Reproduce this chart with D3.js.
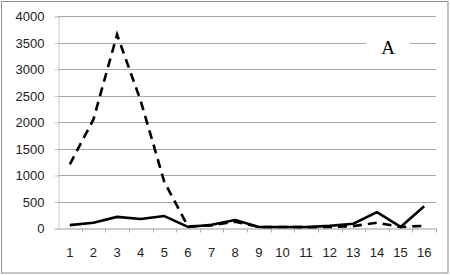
<!DOCTYPE html>
<html>
<head>
<meta charset="utf-8">
<script src="https://cdn.jsdelivr.net/npm/d3@7"></script>
<style>
  body { margin: 0; background: #fff; }
  svg text { font-family: "Liberation Sans", Arial, sans-serif; }
</style>
</head>
<body>
<div id="chart"></div>
<script>
//categories and series values
var categories = ["1", "2", "3", "4", "5", "6", "7", "8", "9", "10", "11", "12", "13", "14", "15", "16"];
var dashedValues = [1200, 2050, 3650, 2400, 870, 30, 50, 120, 20, 20, 15, 20, 35, 100, 20, 40];
var solidValues = [55, 100, 210, 170, 225, 20, 60, 150, 20, 20, 20, 40, 80, 300, 20, 410];
var yTicks = [0, 500, 1000, 1500, 2000, 2500, 3000, 3500, 4000];
var panelLabel = "A";

var width = 450, height = 275;
var margin = { top: 16, right: 14, bottom: 47, left: 58 };

var svg = d3.select("#chart").append("svg")
  .attr("width", width)
  .attr("height", height);

//outer border
svg.append("rect")
  .attr("x", 1.5).attr("y", 1.5)
  .attr("width", width - 3.5).attr("height", height - 3.5)
  .attr("fill", "#fff")
  .attr("stroke", "#8c8c8c");

var x = d3.scaleBand()
  .domain(categories)
  .range([margin.left, width - margin.right]);

var y = d3.scaleLinear()
  .domain([0, 4000])
  .range([height - margin.bottom, margin.top]);

//gridlines
svg.append("g")
  .selectAll("line")
  .data(yTicks.slice(1))
  .enter().append("line")
  .attr("x1", margin.left)
  .attr("x2", width - margin.right)
  .attr("y1", function(d) { return Math.round(y(d)) + 0.5; })
  .attr("y2", function(d) { return Math.round(y(d)) + 0.5; })
  .attr("stroke", "#a6a6a6");

//y axis
var yAxis = svg.append("g")
  .attr("transform", "translate(" + (margin.left + 0.5) + ",0.5)")
  .call(d3.axisLeft(y).tickValues(yTicks).tickFormat(d3.format("d")).tickSize(4).tickPadding(10));
yAxis.select(".domain").attr("stroke", "#c8c8c8");
yAxis.selectAll(".tick line").attr("stroke", "#c8c8c8");
yAxis.selectAll("text").attr("fill", "#222").style("font-size", "13px");

//x axis, ticks between categories
var xAxis = svg.append("g")
  .attr("transform", "translate(0," + (Math.round(y(0)) + 0.5) + ")")
  .call(d3.axisBottom(x).tickSize(0).tickPadding(19));
xAxis.select(".domain").attr("stroke", "#9a9a9a");
xAxis.selectAll("text").attr("fill", "#222").style("font-size", "13px");
xAxis.selectAll(".sep")
  .data(categories)
  .enter().append("line")
  .attr("class", "sep")
  .attr("x1", function(d) { return Math.round(x(d) + x.bandwidth()) + 0.5; })
  .attr("x2", function(d) { return Math.round(x(d) + x.bandwidth()) + 0.5; })
  .attr("y1", 0).attr("y2", 4)
  .attr("stroke", "#b0b0b0");

var line = d3.line()
  .x(function(d, i) { return x(categories[i]) + x.bandwidth() / 2; })
  .y(function(d) { return y(d); });

//dashed series
svg.append("path")
  .datum(dashedValues)
  .attr("d", line)
  .attr("fill", "none")
  .attr("stroke", "#000")
  .attr("stroke-width", 2.6)
  .attr("stroke-dasharray", "9,6");

//solid series
svg.append("path")
  .datum(solidValues)
  .attr("d", line)
  .attr("fill", "none")
  .attr("stroke", "#000")
  .attr("stroke-width", 2.6)
  .attr("stroke-linejoin", "round");

//panel label with white box behind it
svg.append("rect")
  .attr("x", 366).attr("y", 34)
  .attr("width", 44).attr("height", 22)
  .attr("fill", "#fff");
svg.append("text")
  .text(panelLabel)
  .attr("x", 388)
  .attr("y", 54)
  .attr("text-anchor", "middle")
  .style("font-family", "'Liberation Serif', 'Times New Roman', serif")
  .style("font-size", "19px")
  .style("fill", "#000");
</script>
</body>
</html>
